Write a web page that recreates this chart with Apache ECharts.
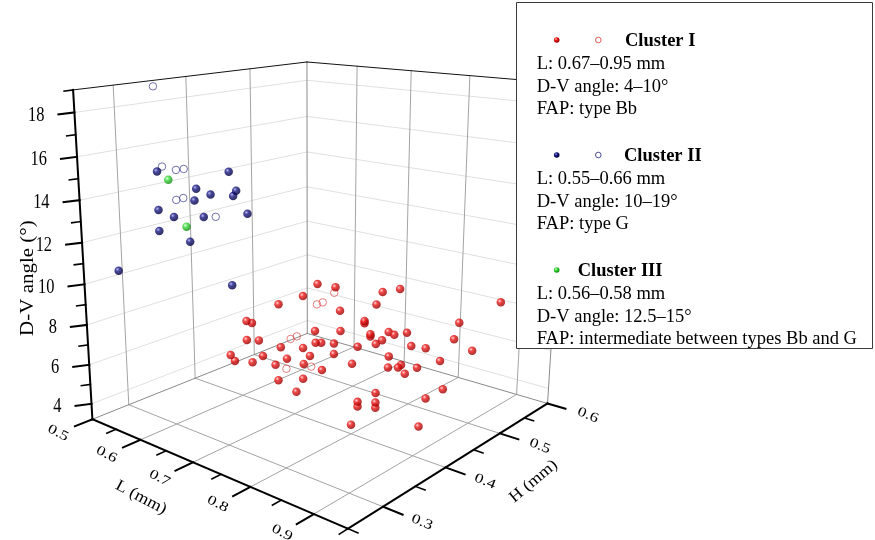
<!DOCTYPE html>
<html><head><meta charset="utf-8">
<script src="https://cdn.jsdelivr.net/npm/echarts@6/dist/echarts.min.js"></script>
<style>html,body{margin:0;padding:0;background:#fff}#chart{width:875px;height:540px}</style>
</head><body><div id="chart"></div>
<script>
// ---------- data: [L (mm), H (mm), D-V angle (deg)] ----------
const clusterIFilled=[
[0.73,0.410,9.91],[0.76,0.411,9.95],[0.72,0.396,9.40],[0.69,0.384,8.91],[0.82,0.429,9.96],[0.83,0.448,9.96],[0.82,0.419,9.48],[0.77,0.409,8.91],
[0.95,0.489,9.75],[0.67,0.352,8.31],[0.67,0.360,8.11],[0.80,0.420,8.51],[0.80,0.420,8.41],[0.93,0.439,9.23],[0.74,0.397,7.83],[0.77,0.410,7.91],
[0.81,0.420,7.95],[0.81,0.420,7.84],[0.83,0.430,8.10],[0.84,0.429,8.06],[0.86,0.429,8.32],[0.67,0.352,7.37],[0.67,0.370,7.12],[0.74,0.398,7.23],
[0.74,0.407,7.12],[0.76,0.409,7.22],[0.83,0.419,7.84],[0.82,0.419,7.57],[0.92,0.443,8.33],[0.86,0.437,7.58],[0.88,0.440,7.61],[0.94,0.452,7.85],
[0.69,0.387,6.73],[0.72,0.396,6.83],[0.79,0.419,7.19],[0.76,0.409,6.70],[0.67,0.328,6.94],[0.67,0.334,6.57],[0.67,0.360,6.15],[0.67,0.376,6.25],
[0.70,0.388,6.22],[0.73,0.398,6.49],[0.68,0.387,5.74],[0.72,0.397,6.01],[0.75,0.399,5.94],[0.79,0.410,6.47],[0.83,0.431,6.89],[0.83,0.430,6.36],
[0.85,0.426,6.60],[0.85,0.431,6.66],[0.87,0.437,6.62],[0.86,0.427,6.37],[0.90,0.443,7.13],[0.69,0.383,5.10],[0.72,0.396,5.27],[0.71,0.394,4.53],
[0.82,0.420,5.15],[0.79,0.420,4.41],[0.79,0.420,4.17],[0.82,0.420,4.67],[0.82,0.420,4.41],[0.91,0.438,5.93],[0.89,0.431,5.40],[0.82,0.380,4.19],
[0.89,0.420,4.19]];
const clusterIOpen=[[0.76,0.409,9.71],[0.74,0.400,9.10],[0.75,0.400,9.27],[0.70,0.394,7.14],[0.71,0.395,7.34],[0.70,0.387,5.72],[0.73,0.400,5.92]];
const clusterIIFilled=[
[0.55,0.320,15.06],[0.57,0.408,14.53],[0.55,0.374,13.84],[0.58,0.411,13.61],[0.57,0.414,13.27],[0.55,0.395,13.39],[0.55,0.371,13.28],[0.55,0.320,13.23],
[0.55,0.341,12.72],[0.55,0.384,12.35],[0.59,0.420,12.43],[0.55,0.320,12.22],[0.55,0.363,11.30],[0.55,0.264,10.85],[0.66,0.340,10.11]];
const clusterIIOpen=[[0.55,0.319,19.00],[0.55,0.327,15.25],[0.55,0.346,14.96],[0.55,0.357,14.93],[0.55,0.345,13.52],[0.55,0.355,13.53],[0.55,0.402,12.21]];
const clusterIII=[[0.56,0.328,14.66],[0.58,0.337,12.45]];

// ---------- axes ----------
const lTicks=[0.5,0.6,0.7,0.8,0.9];
const lMinor=[0.55,0.65,0.75,0.85,0.95];
const hTicks=[0.3,0.4,0.5,0.6];
const hMinor=[0.25,0.35,0.45,0.55];
const zTicks=[4,6,8,10,12,14,16,18];
const zMinor=[5,7,9,11,13,15,17,19];
const L_RANGE=[0.5,0.95], H_RANGE=[0.25,0.6], Z_RANGE=[3.2,19];

// ---------- view: screen anchors of the 3D box (calibration of the perspective camera) ----------
const viewAnchors=[
[0.5,0.25,3.2,92.7,419.3],[0.6,0.25,3.2,139.3,440.7],[0.7,0.25,3.2,192.7,462.7],[0.8,0.25,3.2,250,486.7],[0.9,0.25,3.2,313.3,513.3],[0.95,0.25,3.2,348.3,528.3],
[0.95,0.3,3.2,383.3,506.7],[0.95,0.4,3.2,445,467.3],[0.95,0.5,3.2,501.7,433.3],[0.95,0.6,3.2,546.7,404],
[0.5,0.25,4,91.8,404],[0.5,0.25,6,89.5,365],[0.5,0.25,8,87.1,325],[0.5,0.25,10,84.6,284],[0.5,0.25,12,82.1,242],[0.5,0.25,14,79.6,200],[0.5,0.25,16,77.1,158],[0.5,0.25,18,74.4,113],[0.5,0.25,19,73,90],
[0.5,0.6,3.2,306.7,333.3],[0.5,0.6,19,306.7,62],
[0.5,0.3,19,113,84.5],[0.5,0.3,3.2,128,405.1],[0.5,0.4,19,186,76],[0.5,0.4,3.2,197,377.4],[0.5,0.5,19,250,68.6],[0.5,0.5,3.2,254,354.5],
[0.8,0.6,19,470,76],[0.8,0.6,3.2,458.3,377.5]];

function norm(L,H,Z){return [(L-L_RANGE[0])/(L_RANGE[1]-L_RANGE[0]),(H-H_RANGE[0])/(H_RANGE[1]-H_RANGE[0]),(Z-Z_RANGE[0])/(Z_RANGE[1]-Z_RANGE[0])];}
const P=(function(){const N=11;const A=[];const B=new Array(N).fill(0);for(let i=0;i<N;i++)A.push(new Array(N).fill(0));
 viewAnchors.forEach(a=>{const [u,v,w]=norm(a[0],a[1],a[2]);const x=(a[3]-300)/250,y=(a[4]-300)/250;
  const r1=[u,v,w,1,0,0,0,0,-x*u,-x*v,-x*w],r2=[0,0,0,0,u,v,w,1,-y*u,-y*v,-y*w];
  [[r1,x],[r2,y]].forEach(([r,b])=>{for(let i=0;i<N;i++){B[i]+=r[i]*b;for(let j=0;j<N;j++)A[i][j]+=r[i]*r[j];}});});
 for(let c=0;c<N;c++){let m=c;for(let r=c+1;r<N;r++)if(Math.abs(A[r][c])>Math.abs(A[m][c]))m=r;[A[c],A[m]]=[A[m],A[c]];[B[c],B[m]]=[B[m],B[c]];
  for(let r=0;r<N;r++){if(r===c)continue;const f=A[r][c]/A[c][c];for(let k=c;k<N;k++)A[r][k]-=f*A[c][k];B[r]-=f*B[c];}}
 return B.map((b,i)=>b/A[i][i]);})();
function depth(L,H,Z){const [u,v,w]=norm(L,H,Z);return P[8]*u+P[9]*v+P[10]*w+1;}
function proj(L,H,Z){const [u,v,w]=norm(L,H,Z);const d=P[8]*u+P[9]*v+P[10]*w+1;
 return [(P[0]*u+P[1]*v+P[2]*w+P[3])/d*250+300,(P[4]*u+P[5]*v+P[6]*w+P[7])/d*250+300];}
function dirScreen(a,b){const p=proj(...a),q=proj(...b);const dx=q[0]-p[0],dy=q[1]-p[1],n=Math.hypot(dx,dy);return [dx/n,dy/n];}

// ---------- box, grid, axes, ticks ----------
const LS=[{c:'#000',w:2},{c:'#111',w:1},{c:'#a3a3a3',w:1},{c:'#e0e0e0',w:1},{c:'#8a8a8a',w:1},{c:'#000',w:1.6}];
const segs=[];
function addSeg(a,b,s){const p=proj(...a),q=proj(...b);segs.push([p[0],p[1],q[0],q[1],s]);}
const [L0,L1]=L_RANGE,[H0,H1]=H_RANGE,[Z0,Z1]=Z_RANGE;
zTicks.forEach(z=>{addSeg([L0,H0,z],[L0,H1,z],3);addSeg([L0,H1,z],[L1,H1,z],3);});
hTicks.filter(h=>h<H1).forEach(h=>addSeg([L0,h,Z0],[L0,h,Z1],2));
lTicks.filter(l=>l>L0).forEach(l=>addSeg([l,H1,Z0],[l,H1,Z1],2));
lTicks.filter(l=>l>L0).forEach(l=>addSeg([l,H0,Z0],[l,H1,Z0],2));
hTicks.filter(h=>h<H1).forEach(h=>addSeg([L0,h,Z0],[L1,h,Z0],2));
addSeg([L0,H0,Z0],[L0,H1,Z0],4);addSeg([L0,H1,Z0],[L1,H1,Z0],4);
addSeg([L0,H1,Z0],[L0,H1,Z1],4);addSeg([L1,H1,Z0],[L1,H1,Z1],4);
addSeg([L0,H0,Z1],[L0,H1,Z1],1);addSeg([L0,H1,Z1],[L1,H1,Z1],1);
addSeg([L0,H0,Z0],[L0,H0,Z1],0);addSeg([L0,H0,Z0],[L1,H0,Z0],0);addSeg([L1,H0,Z0],[L1,H1,Z0],0);
zTicks.forEach(z=>{const p=proj(L0,H0,z);segs.push([p[0],p[1],p[0]-16,p[1]+2,0]);});
zMinor.forEach(z=>{const p=proj(L0,H0,z);segs.push([p[0],p[1],p[0]-9,p[1]+1.2,5]);});
lTicks.forEach(l=>addSeg([l,H0,Z0],[l,H0-0.023,Z0],0));
lMinor.forEach(l=>addSeg([l,H0,Z0],[l,H0-0.012,Z0],5));
hTicks.forEach(h=>addSeg([L1,h,Z0],[L1+0.028,h,Z0],0));
hMinor.forEach(h=>addSeg([L1,h,Z0],[L1+0.014,h,Z0],5));

// ---------- text labels ----------
const SERIF="'Liberation Serif','Times New Roman',serif";
const labelDefs=[];const labelData=[];
function addLabel(pos,text,o){labelData.push([pos[0],pos[1],labelDefs.length]);labelDefs.push(Object.assign({text:text},o));}
zTicks.forEach(z=>{const p=proj(L0,H0,z);addLabel([p[0]-30,p[1]+3],String(z),{size:20,align:'right',rot:0,sx:0.82,sy:1});});
lTicks.forEach(l=>{const p=proj(l,H0,Z0);const d=dirScreen([l,H0,Z0],[l,H0-0.05,Z0]);addLabel([p[0]+37*d[0],p[1]+37*d[1]],l.toFixed(1),{size:17.5,rot:-27,sx:1,sy:0.78});});
hTicks.forEach(h=>{const p=proj(L1,h,Z0);const d=dirScreen([L1,h,Z0],[L1+0.05,h,Z0]);addLabel([p[0]+42*d[0],p[1]+42*d[1]],h.toFixed(1),{size:17.5,rot:-22,sx:1,sy:0.78});});
(function(){const p=proj(0.72,H0,Z0);const d=dirScreen([0.72,H0,Z0],[0.72,H0-0.05,Z0]);addLabel([p[0]+70*d[0],p[1]+70*d[1]],'L (mm)',{size:18,rot:-28,sx:1,sy:0.9});})();
(function(){const p=proj(L1,0.43,Z0);const d=dirScreen([L1,0.43,Z0],[L1+0.05,0.43,Z0]);addLabel([p[0]+75*d[0],p[1]+75*d[1]],'H (mm)',{size:18,rot:40,sx:1,sy:0.9});})();
(function(){const p=proj(L0,H0,10.3);addLabel([p[0]-56,p[1]],'D-V angle (°)',{size:21,rot:90,sx:1,sy:0.9});})();

// ---------- marks ----------
function toScreen(arr){return arr.map(d=>({v:proj(d[0],d[1],d[2]),k:depth(d[0],d[1],d[2])})).sort((a,b)=>b.k-a.k).map(o=>o.v);}
function ball(c0,c1,c2){return new echarts.graphic.RadialGradient(0.36,0.34,0.62,[{offset:0,color:c0},{offset:0.38,color:c1},{offset:1,color:c2}]);}
const redBall=ball('#ffd0d0','#ee1a1a','#a00000');
const blueBall=ball('#a8a8e8','#1a1a88','#000040');
const greenBall=ball('#e4ffe4','#3ade3a','#139013');

const chart=echarts.init(document.getElementById('chart'),null,{renderer:'canvas'});
const legendX=536.7,hdr=[40,155,270],lineGap=[23.3,46,68.3];
const legendLines=[
 ['L: 0.67–0.95 mm','D-V angle: 4–10°','FAP: type Bb'],
 ['L: 0.55–0.66 mm','D-V angle: 10–19°','FAP: type G'],
 ['L: 0.56–0.58 mm','D-V angle: 12.5–15°','FAP: intermediate between types Bb and G']];
const graphic=[{type:'rect',z:100,shape:{x:516.5,y:2.5,width:356,height:346},style:{fill:'#fff',stroke:'#3a3a3a',lineWidth:1}}];
[['Cluster I',625],['Cluster II',624],['Cluster III',577.7]].forEach((h,i)=>{
 graphic.push({type:'text',z:101,x:h[1],y:hdr[i]+1,style:{text:h[0],fontFamily:SERIF,fontSize:18.5,fontWeight:'bold',fill:'#000',verticalAlign:'middle',align:'left'}});
 legendLines[i].forEach((t,j)=>graphic.push({type:'text',z:101,x:legendX,y:hdr[i]+lineGap[j]+1,style:{text:t,fontFamily:SERIF,fontSize:18.5,fill:'#000',verticalAlign:'middle',align:'left'}}));});
graphic.push({type:'circle',z:101,shape:{cx:556.7,cy:40,r:2.8},style:{fill:redBall}});
graphic.push({type:'circle',z:101,shape:{cx:598.3,cy:40,r:2.8},style:{fill:'none',stroke:'#e04a4a',lineWidth:0.9}});
graphic.push({type:'circle',z:101,shape:{cx:556.7,cy:155,r:2.8},style:{fill:blueBall}});
graphic.push({type:'circle',z:101,shape:{cx:598.3,cy:155,r:2.8},style:{fill:'none',stroke:'#3a3a8a',lineWidth:0.9}});
graphic.push({type:'circle',z:101,shape:{cx:556.7,cy:270,r:2.8},style:{fill:greenBall}});

chart.setOption({
 animation:false,
 grid:{left:0,right:0,top:0,bottom:0},
 xAxis:{type:'value',min:0,max:875,show:false},
 yAxis:{type:'value',min:0,max:540,inverse:true,show:false},
 graphic:graphic,
 series:[
  {type:'custom',name:'box',silent:true,z:1,data:segs,encode:{x:[0,2],y:[1,3]},
   renderItem:(params,api)=>{const a=api.coord([api.value(0),api.value(1)]),b=api.coord([api.value(2),api.value(3)]);const s=LS[api.value(4)];
    return {type:'line',shape:{x1:a[0],y1:a[1],x2:b[0],y2:b[1]},style:{stroke:s.c,lineWidth:s.w,lineCap:'square'}};}},
  {type:'custom',name:'labels',silent:true,z:2,data:labelData,encode:{x:0,y:1},
   renderItem:(params,api)=>{const c=api.coord([api.value(0),api.value(1)]);const t=labelDefs[api.value(2)];
    return {type:'text',x:c[0],y:c[1],rotation:t.rot*Math.PI/180,scaleX:t.sx,scaleY:t.sy,
     style:{text:t.text,fontFamily:SERIF,fontSize:t.size,fill:'#000',align:t.align||'center',verticalAlign:'middle'}};}},
  {type:'scatter',name:'Cluster II open',silent:true,z:3,symbol:'circle',symbolSize:7.5,data:toScreen(clusterIIOpen),itemStyle:{color:'rgba(255,255,255,0)',borderColor:'#3a3a8a',borderWidth:0.9}},
  {type:'scatter',name:'Cluster II',silent:true,z:3,symbol:'circle',symbolSize:8.5,data:toScreen(clusterIIFilled),itemStyle:{color:blueBall}},
  {type:'scatter',name:'Cluster III',silent:true,z:3,symbol:'circle',symbolSize:8.5,data:toScreen(clusterIII),itemStyle:{color:greenBall}},
  {type:'scatter',name:'Cluster I open',silent:true,z:3,symbol:'circle',symbolSize:7.5,data:toScreen(clusterIOpen),itemStyle:{color:'rgba(255,255,255,0)',borderColor:'#e04a4a',borderWidth:0.9}},
  {type:'scatter',name:'Cluster I',silent:true,z:3,symbol:'circle',symbolSize:8.5,data:toScreen(clusterIFilled),itemStyle:{color:redBall}}
 ]
});
</script></body></html>
